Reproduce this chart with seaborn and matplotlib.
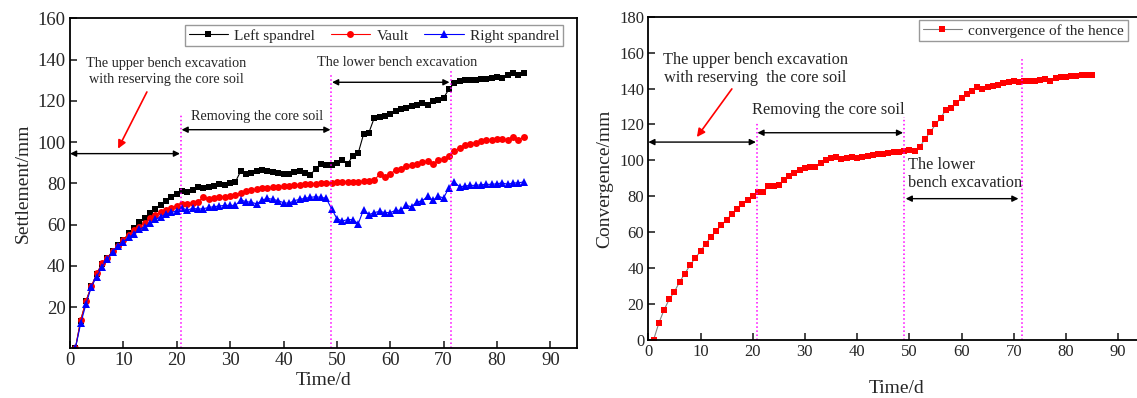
import numpy as np
import pandas as pd
import matplotlib
matplotlib.use('Agg')
import matplotlib.pyplot as plt
import seaborn as sns

# time in days
days = list(range(1, 86))

left_spandrel = [0, 13.4, 23, 30, 36, 41, 44, 47, 50, 52.5,
                 55.7, 58.5, 61, 63, 65.4, 67.5, 69.5, 71.4, 73.5, 75,
                 76.3, 75.6, 76.7, 78.4, 77.5, 78.4, 78.8, 79.5, 79, 80,
                 80.8, 86, 84.7, 85, 85.8, 86.3, 86.1, 85.5, 85, 84.7,
                 84.7, 85.3, 85.8, 85.2, 83.9, 87.1, 89.2, 88.7,
                 88.7, 90.0, 91.2, 89.5, 93.2, 94.7, 103.8, 104.6, 111.7, 112.2,
                 112.5, 113.8, 114.9, 115.9, 116.7, 117.3, 118.1, 118.9, 118.1, 119.9,
                 120.6, 121.5, 125.6, 128.6, 129.5, 130, 130.3, 130.3, 130.6, 130.8,
                 131.1, 131.5, 131.2, 132.4, 133.7, 132.4, 133.5]

vault = [0, 13.7, 23, 30, 36.3, 41.2, 44, 47, 49.8, 52.5,
         55, 57.4, 59, 60.6, 63, 64.6, 65.9, 67, 68.2, 69.1,
         70, 70, 70.6, 71.1, 73.2, 72.2, 73, 73.2, 73.5, 73.8,
         74.2, 75.4, 76.3, 76.7, 77.1, 77.5, 77.7, 78, 78.4, 78.5,
         78.8, 79.2, 79.3, 79.5, 79.6, 79.8, 80, 80, 80.1,
         80.4, 80.5, 80.6, 80.7, 80.8, 81, 81.2, 81.5, 84.4, 83.1,
         84.7, 86.3, 87.1, 88.2, 88.7, 89.5, 90.3, 90.6, 89.5, 91.1,
         91.9, 93.2, 95.6, 97.2, 98.4, 99.2, 99.6, 100.3, 100.8, 101.1,
         101.4, 101.6, 100.8, 102.7, 101.1, 102.4]

right_spandrel = [0, 12.1, 21.5, 29.9, 34.7, 39.6, 43.1, 46.8, 49.6, 51.7,
                  53.8, 55.4, 57.7, 59, 60.6, 62.5, 63.8, 65.1, 65.9, 66.7,
                  68, 67, 67.9, 67.5, 67.7, 68.3, 68.7, 69, 69.3, 69.3,
                  69.3, 71.9, 71.1, 70.8, 70, 71.9, 72.7, 72.2, 71.6, 70.6,
                  70.3, 71.6, 72.2, 72.7, 73.2, 73.5, 73.2, 72.7,
                  67.7, 62.9, 61.7, 62.4, 62.4, 60.4, 67.2, 64.8, 65.8, 66.4,
                  65.8, 65.8, 66.9, 66.9, 69.3, 68.6, 71, 71.5, 73.7, 71.8,
                  73.7, 72.9, 77.9, 80.7, 78.3, 78.7, 79.0, 79.0, 79.3, 79.5,
                  79.5, 79.8, 80.2, 79.5, 80.2, 80.2, 80.7]

convergence = [0, 9.3, 16.7, 22.6, 26.9, 32.4, 37, 41.7, 45.7, 49.4,
               53.7, 57.4, 60.7, 63.9, 67, 70, 72.8, 75.6, 77.8, 80.2,
               82.4, 82.4, 85.6, 85.6, 86.1, 88.9, 91.3, 93.2, 94.4, 95.7,
               96.3, 96.3, 98.5, 100, 101.3, 101.9, 101, 101.3, 101.9, 101.3,
               101.9, 102.4, 102.8, 103.3, 103.7, 104.1, 104.6, 104.6, 105,
               105.9, 105.2, 107.4, 112, 115.7, 120, 123.7, 128.1, 129.3, 131.9,
               134.8, 137, 138.5, 140.7, 139.8, 140.7, 141.7, 142.2, 143, 143.5,
               144.1, 143.5, 144.1, 144.4, 144.1, 144.8, 145.4, 144.4, 145.9, 146.3,
               146.7, 146.9, 147.2, 147.6, 147.8, 147.8]

# stage boundaries (days)
stage_days = [20.8, 48.9, 71.3]

sns.set_style('ticks')
plt.rcParams['font.family'] = ['Liberation Serif', 'DejaVu Serif']

fig = plt.figure(figsize=(11.37, 3.98), dpi=100)
ax1 = fig.add_axes([0.0616, 0.1249, 0.4459, 0.829])
ax2 = fig.add_axes([0.5702, 0.1457, 0.4362, 0.8123])

df = pd.DataFrame({'day': days, 'left': left_spandrel, 'vault': vault,
                   'right': right_spandrel, 'conv': convergence})


def two_arrow(ax, x0, x1, y):
    ax.annotate('', xy=(x1, y), xytext=(x0, y),
                arrowprops=dict(arrowstyle='<|-|>', color='black', lw=1,
                                mutation_scale=9, shrinkA=0, shrinkB=0))


def red_arrow(ax, tail, head):
    ax.annotate('', xy=head, xytext=tail,
                arrowprops=dict(arrowstyle='-|>', color='red', lw=1.2,
                                mutation_scale=12, shrinkA=0, shrinkB=0))


# ---- left: settlement
sns.lineplot(data=df, x='day', y='left', ax=ax1, color='black', marker='s',
             markersize=4.5, markeredgewidth=0, linewidth=0.8, label='Left spandrel')
sns.lineplot(data=df, x='day', y='vault', ax=ax1, color='red', marker='o',
             markersize=5, markeredgewidth=0, linewidth=0.8, label='Vault')
sns.lineplot(data=df, x='day', y='right', ax=ax1, color='blue', marker='^',
             markersize=5.5, markeredgewidth=0, linewidth=0.8, label='Right spandrel')

ax1.vlines(stage_days[0], 0, 113.5, colors='#ff00ff', linestyles=':', lw=1.1)
ax1.vlines(stage_days[1], 0, 133, colors='#ff00ff', linestyles=':', lw=1.1)
ax1.vlines(stage_days[2], 0, 135.6, colors='#ff00ff', linestyles=':', lw=1.1)

two_arrow(ax1, 0, 20.6, 94.4)
two_arrow(ax1, 20.9, 48.8, 106)
two_arrow(ax1, 49.1, 71.1, 129)
red_arrow(ax1, (14.4, 124.3), (9.0, 96.8))

ax1.text(18.0, 134, 'The upper bench excavation\nwith reserving the core soil',
         ha='center', va='center', fontsize=10.3, linespacing=1.3)
ax1.text(35.0, 112.5, 'Removing the core soil', ha='center', va='center', fontsize=10.3)
ax1.text(61.2, 138.8, 'The lower bench excavation', ha='center', va='center', fontsize=10.3)

ax1.set_xlim(0, 95)
ax1.set_ylim(0, 160)
ax1.set_xticks(range(0, 100, 10))
ax1.set_yticks(range(20, 180, 20))
ax1.set_xlabel('Time/d', fontsize=14, labelpad=2)
ax1.set_ylabel('Settlement/mm', fontsize=14, labelpad=4)
ax1.tick_params(direction='in', length=5, width=1.2, labelsize=13.5, pad=3)
ax1.legend(loc='upper right', bbox_to_anchor=(0.972, 0.98), borderaxespad=0,
           ncol=3, fontsize=11, frameon=True, fancybox=False, edgecolor='gray',
           handlelength=2.6, handletextpad=0.4, columnspacing=1.0, borderpad=0.25)

# ---- right: convergence
sns.lineplot(data=df, x='day', y='conv', ax=ax2, color='gray', marker='s',
             markersize=4.5, markerfacecolor='red', markeredgecolor='red',
             markeredgewidth=0, linewidth=0.8, label='convergence of the hence')

ax2.vlines(stage_days[0], 0, 121, colors='#ff00ff', linestyles=':', lw=1.1)
ax2.vlines(stage_days[1], 0, 124, colors='#ff00ff', linestyles=':', lw=1.1)
ax2.vlines(71.6, 0, 157, colors='#ff00ff', linestyles=':', lw=1.1)

two_arrow(ax2, 0, 20.6, 110.2)
two_arrow(ax2, 20.9, 48.8, 115.4)
two_arrow(ax2, 49.3, 70.9, 78.7)
red_arrow(ax2, (16.0, 139.8), (9.3, 113))

ax2.text(20.5, 150.8, 'The upper bench excavation\nwith reserving  the core soil',
         ha='center', va='center', fontsize=11.8, linespacing=1.2)
ax2.text(34.5, 128.3, 'Removing the core soil', ha='center', va='center', fontsize=11.8)
ax2.text(49.7, 92.5, 'The lower\nbench excavation', ha='left', va='center',
         fontsize=11.8, linespacing=1.2)

ax2.set_xlim(0, 95)
ax2.set_ylim(0, 180)
ax2.set_xticks(range(0, 100, 10))
ax2.set_yticks(range(0, 200, 20))
ax2.set_xlabel('Time/d', fontsize=14, labelpad=14)
ax2.set_ylabel('Convergence/mm', fontsize=14, labelpad=4)
ax2.tick_params(direction='in', length=5, width=1.2, labelsize=12, pad=3)
ax2.legend(loc='upper right', bbox_to_anchor=(0.967, 0.99), borderaxespad=0,
           fontsize=11, frameon=True, fancybox=False, edgecolor='gray',
           handlelength=2.6, handletextpad=0.4, borderpad=0.25)

for ax in (ax1, ax2):
    for s in ax.spines.values():
        s.set_linewidth(1.3)
        s.set_color('black')

fig.savefig('out.png', dpi=100)
